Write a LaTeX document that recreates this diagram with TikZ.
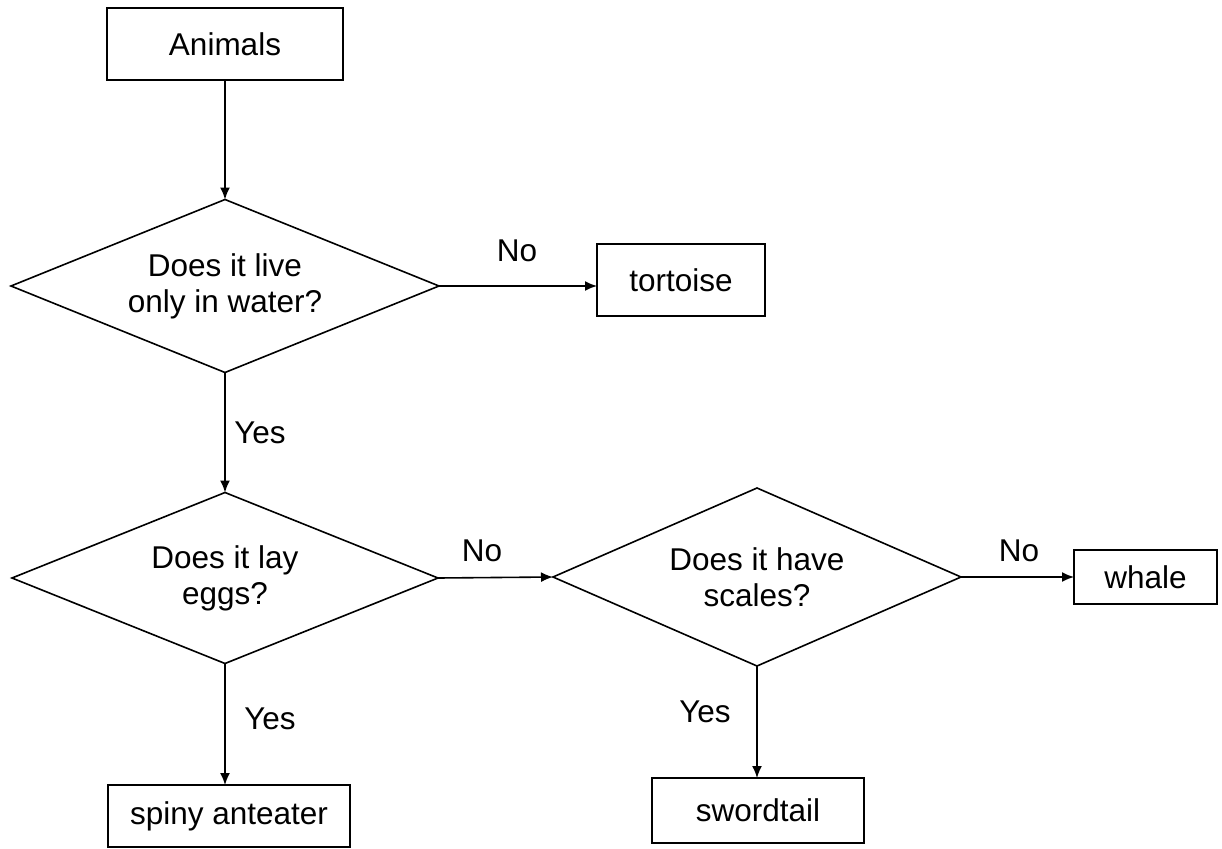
\documentclass[tikz,border=0pt]{standalone}
\usepackage{fontspec}
\setmainfont{Liberation Sans}
\usetikzlibrary{shapes.geometric,arrows.meta}
\begin{document}
\begin{tikzpicture}[x=1pt,y=-1pt,
  every node/.style={font=\fontsize{31.5}{36}\selectfont},
  box/.style={draw,rectangle,line width=1.6pt,inner sep=0pt,outer sep=0pt},
  decision/.style={draw,diamond,line width=1.6pt,inner sep=0pt,outer sep=0pt,align=center},
  lbl/.style={inner sep=0pt},
  conn/.style={line width=1.6pt,-{Latex[length=12pt,width=10pt]}}
]
\useasboundingbox (0,0) rectangle (1222,848);
\node[box,minimum width=236pt,minimum height=72pt] (animals) at (225,44) {Animals};
\node[decision,aspect=2.47,minimum width=428pt,minimum height=173pt] (d1) at (225,286) {Does it live\\only in water?};
\node[box,minimum width=168pt,minimum height=72pt] (tort) at (681,280) {tortoise};
\node[decision,aspect=2.49,minimum width=426pt,minimum height=171pt] (d2) at (225,578) {Does it lay\\eggs?};
\node[decision,aspect=2.28,minimum width=408pt,minimum height=178pt] (d3) at (757,577) {Does it have\\scales?};
\node[box,minimum width=143pt,minimum height=54pt] (whale) at (1145.5,577) {whale};
\node[box,minimum width=242pt,minimum height=62pt] (spiny) at (229,816) {spiny anteater};
\node[box,minimum width=212pt,minimum height=65pt] (sword) at (758,810.5) {swordtail};

\draw[conn] (animals.south) -- (d1.north);
\draw[conn] (d1.east) -- (d1.east -| tort.west);
\draw[conn] (d1.south) -- (d2.north);
\draw[conn] (d2.east) -- (d3.west);
\draw[conn] (d3.east) -- (d3.east -| whale.west);
\draw[conn] (d2.south) -- (d2.south |- spiny.north);
\draw[conn] (d3.south) -- (d3.south |- sword.north);

\node[lbl] (no1) at (517,251) {No};
\node[lbl] (yes1) at (260,433) {Yes};
\node[lbl] (no2) at (482,551) {No};
\node[lbl] (no3) at (1019,551) {No};
\node[lbl] (yes2) at (270,719) {Yes};
\node[lbl] (yes3) at (705,712) {Yes};
\end{tikzpicture}
\end{document}
